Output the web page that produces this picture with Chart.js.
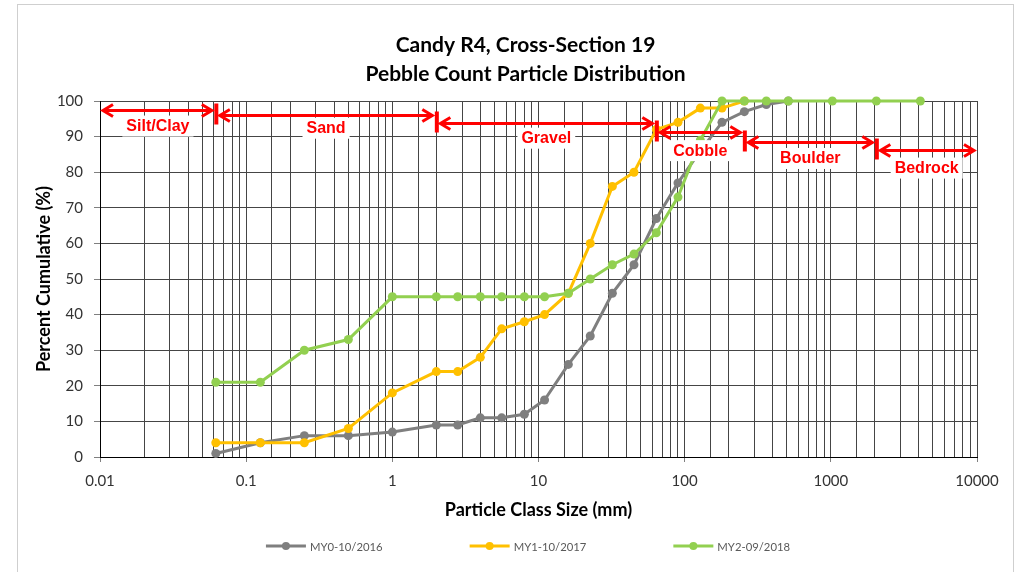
<!DOCTYPE html>
<html>
<head>
<meta charset="utf-8">
<script src="https://cdn.jsdelivr.net/npm/chart.js@4"></script>
<style>
  body { margin: 0; background: #fff; }
  canvas { display: block; }
</style>
</head>
<body>
<canvas id="psd" width="1019" height="572"></canvas>
<script>
// sieve sizes (mm) and cumulative percent finer for each survey
const sizes = [0.062, 0.125, 0.25, 0.5, 1, 2, 2.8, 4, 5.6, 8, 11, 16, 22.6, 32, 45, 64, 90, 128, 180, 256, 362, 512, 1024, 2048, 4096];
const my0 = [1, 4, 6, 6, 7, 9, 9, 11, 11, 12, 16, 26, 34, 46, 54, 67, 77, 86, 94, 97, 99, 100];
const my1 = [4, 4, 4, 8, 18, 24, 24, 28, 36, 38, 40, 46, 60, 76, 80, 92, 94, 98, 98, 100];
const my2 = [21, 21, 30, 33, 45, 45, 45, 45, 45, 45, 45, 46, 50, 54, 57, 63, 73, 89, 100, 100, 100, 100, 100, 100, 100];
const seriesNames = ["MY0-10/2016", "MY1-10/2017", "MY2-09/2018"];

// size class boundaries (mm)
const classEdges = [0.01, 0.062, 2, 64, 256, 2048, 10000];
const classNames = ["Silt/Clay", "Sand", "Gravel", "Cobble", "Boulder", "Bedrock"];

const toPoints = ys => ys.map((y, i) => ({ x: sizes[i], y }));
const isDecade = v => Math.abs(Math.log10(v) - Math.round(Math.log10(v))) < 1e-6;
const decadeLabel = v => {
  const e = Math.round(Math.log10(v));
  return e < 0 ? Math.pow(10, e).toFixed(-e) : String(Math.pow(10, e));
};

// white page + thin frame
const frame = {
  id: 'frame',
  beforeDraw(chart) {
    const ctx = chart.ctx;
    ctx.save();
    ctx.fillStyle = '#fff';
    ctx.fillRect(0, 0, chart.width, chart.height);
    ctx.strokeStyle = '#cfcfcf';
    ctx.lineWidth = 1;
    ctx.strokeRect(17.5, 4.5, 996, 620);
    // two line title
    ctx.fillStyle = '#000';
    ctx.font = 'bold 21px Lato';
    ctx.textAlign = 'center';
    ctx.textBaseline = 'middle';
    ctx.fillText('Candy R4, Cross-Section 19', 525.5, 45);
    ctx.fillText('Pebble Count Particle Distribution', 525.5, 74);
    ctx.restore();
  }
};

// red double arrows marking the size classes
const sizeClasses = {
  id: 'sizeClasses',
  afterDatasetsDraw(chart, args, opts) {
    const { ctx, scales: { x, y } } = chart;
    const last = classNames.length - 1;
    ctx.save();
    ctx.strokeStyle = '#ff0000';
    ctx.fillStyle = '#ff0000';
    ctx.lineWidth = 3;
    ctx.lineJoin = 'miter';
    classNames.forEach((name, i) => {
      const x0 = x.getPixelForValue(classEdges[i]);
      const x1 = x.getPixelForValue(classEdges[i + 1]);
      const ay = Math.round(y.getPixelForValue(opts.arrowY[i])) + 0.5;
      const t0 = x0 + (i > 0 ? 4 : 3);
      const t1 = x1 - (i < last ? 4 : 3);
      ctx.beginPath();
      ctx.moveTo(t0 + 1, ay);
      ctx.lineTo(t1 - 1, ay);
      ctx.moveTo(t0 + 10, ay - 6);
      ctx.lineTo(t0, ay);
      ctx.lineTo(t0 + 10, ay + 6);
      ctx.moveTo(t1 - 10, ay - 6);
      ctx.lineTo(t1, ay);
      ctx.lineTo(t1 - 10, ay + 6);
      ctx.stroke();
      if (i > 0) ctx.fillRect(x0 - 1.5, ay - 12, 4, 21);
    });
    ctx.font = 'bold 16px "Liberation Sans"';
    ctx.textAlign = 'center';
    ctx.textBaseline = 'middle';
    classNames.forEach((name, i) => {
      const cx = (x.getPixelForValue(classEdges[i]) + x.getPixelForValue(classEdges[i + 1])) / 2;
      const cy = y.getPixelForValue(opts.labelY[i]);
      const w = ctx.measureText(name).width;
      ctx.fillStyle = '#fff';
      ctx.fillRect(cx - w / 2 - 4, cy - 10, w + 8, 21);
      ctx.fillStyle = '#ff0000';
      ctx.fillText(name, cx, cy + 1);
    });
    ctx.restore();
  }
};

// legend with line + marker swatches under the axis title
const lineLegend = {
  id: 'lineLegend',
  afterDraw(chart) {
    const ctx = chart.ctx;
    const sets = chart.data.datasets;
    const gap = 87, swatch = 40, cy = 546;
    ctx.save();
    ctx.font = '11.3px Lato';
    ctx.textBaseline = 'middle';
    const widths = sets.map(d => swatch + 4 + ctx.measureText(d.label).width);
    const total = widths.reduce((a, b) => a + b, 0) + gap * (sets.length - 1);
    let sx = 528 - total / 2;
    sets.forEach((d, i) => {
      ctx.strokeStyle = d.borderColor;
      ctx.lineWidth = 3;
      ctx.beginPath();
      ctx.moveTo(sx, cy);
      ctx.lineTo(sx + swatch, cy);
      ctx.stroke();
      ctx.fillStyle = d.backgroundColor;
      ctx.beginPath();
      ctx.arc(sx + swatch / 2, cy, 4, 0, Math.PI * 2);
      ctx.fill();
      ctx.fillStyle = '#595959';
      ctx.fillText(d.label, sx + swatch + 4, cy + 1);
      sx += widths[i] + gap;
    });
    ctx.restore();
  }
};

new Chart(document.getElementById('psd'), {
  type: 'scatter',
  data: {
    datasets: [
      { label: seriesNames[0], data: toPoints(my0), borderColor: '#7f7f7f', backgroundColor: '#7f7f7f', order: 2 },
      { label: seriesNames[1], data: toPoints(my1), borderColor: '#ffc000', backgroundColor: '#ffc000', order: 1 },
      { label: seriesNames[2], data: toPoints(my2), borderColor: '#92d050', backgroundColor: '#92d050', order: 0 }
    ]
  },
  options: {
    responsive: false,
    animation: false,
    devicePixelRatio: 1,
    layout: { padding: { top: 101, left: 32, right: 42, bottom: 48 } },
    elements: {
      line: { borderWidth: 3, tension: 0 },
      point: { radius: 4.5, hoverRadius: 4.5, borderWidth: 0 }
    },
    datasets: { scatter: { showLine: true, clip: false } },
    plugins: {
      legend: { display: false },
      tooltip: { enabled: false },
      sizeClasses: {
        arrowY: [97.5, 96.1, 93.9, 91.4, 88.6, 86.2],
        labelY: [93.1, 92.5, 89.7, 86.2, 84.0, 81.3]
      }
    },
    scales: {
      x: {
        type: 'logarithmic',
        min: 0.01,
        max: 10000,
        afterFit: s => { s.height = 67; },
        border: { color: '#000', width: 1 },
        grid: {
          color: '#454545',
          lineWidth: 1,
          tickLength: 5,
          tickColor: c => (c.tick && isDecade(c.tick.value)) ? '#808080' : 'rgba(0,0,0,0)'
        },
        ticks: {
          autoSkip: false,
          maxRotation: 0,
          padding: 10,
          color: '#333',
          font: { family: 'Lato', size: 15 },
          callback: v => isDecade(v) ? decadeLabel(v) : ''
        },
        title: {
          display: true,
          text: 'Particle Class Size (mm)',
          color: '#000',
          font: { family: 'Lato', size: 18, weight: 'bold' },
          padding: { top: 4, bottom: 3 }
        }
      },
      y: {
        min: 0,
        max: 100,
        afterFit: s => { s.width = 68; },
        border: { color: '#000', width: 1 },
        grid: { color: '#454545', lineWidth: 1, tickLength: 6, tickColor: '#808080' },
        ticks: {
          stepSize: 10,
          padding: 11,
          color: '#333',
          font: { family: 'Lato', size: 15 }
        },
        title: {
          display: true,
          text: 'Percent Cumulative (%)',
          color: '#000',
          font: { family: 'Lato', size: 18, weight: 'bold' },
          padding: { top: 1, bottom: 0 }
        }
      }
    }
  },
  plugins: [frame, sizeClasses, lineLegend]
});
</script>
</body>
</html>
